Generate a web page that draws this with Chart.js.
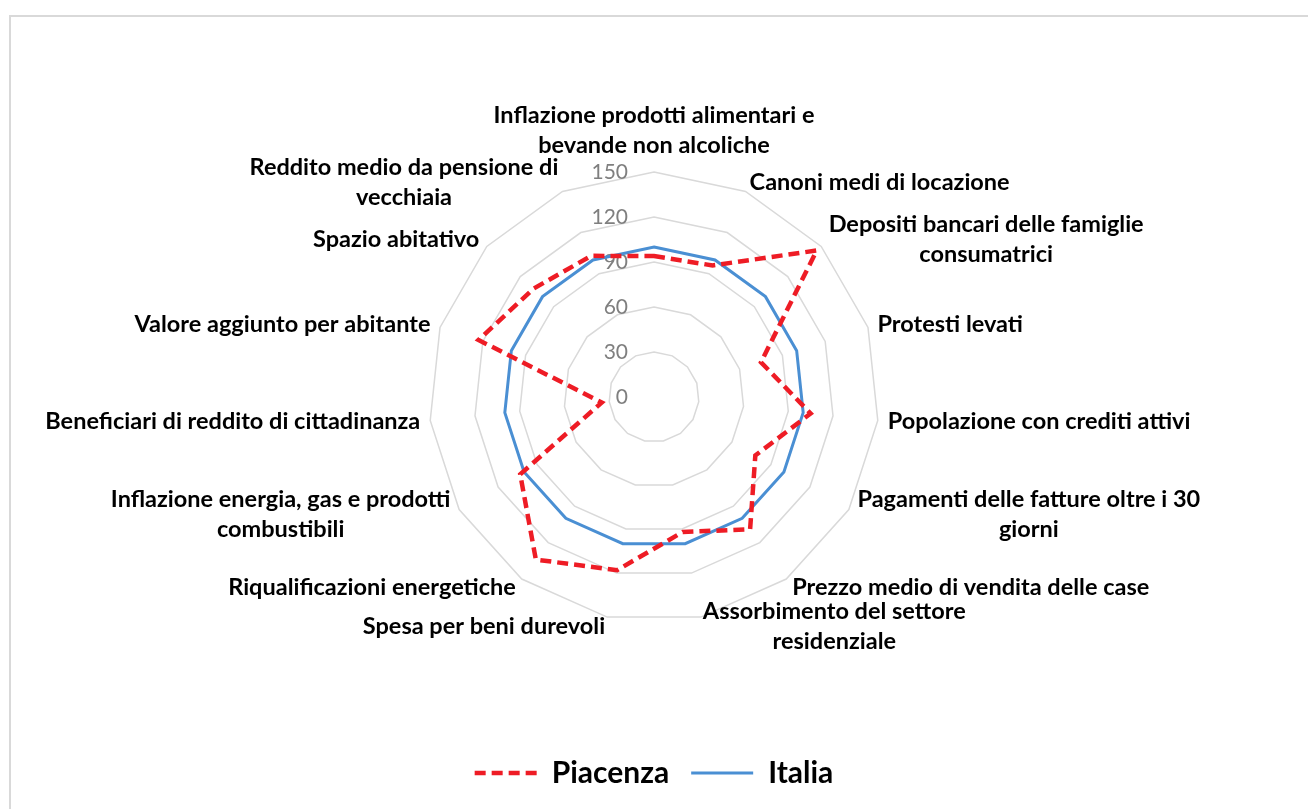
<!DOCTYPE html>
<html lang="it">
<head>
<meta charset="UTF-8">
<title>Piacenza e Italia - indicatori</title>
<script src="https://cdn.jsdelivr.net/npm/chart.js"></script>
<style>
  html, body { margin: 0; padding: 0; background: #fff; overflow: hidden; }
  .cornice { position: absolute; left: 9px; top: 15px; width: 1400px; height: 900px; border: 2px solid #d9d9d9; }
  .box { position: absolute; left: 0; top: 0; width: 1308px; height: 809px; }
</style>
</head>
<body>
<div class="cornice"></div>
<div class="box"><canvas id="radar"></canvas></div>

<script>
// categorie (una riga per elemento dell'array interno)
const categorie = [
  ['Inflazione prodotti alimentari e', 'bevande non alcoliche'],
  ['Canoni medi di locazione'],
  ['Depositi bancari delle famiglie', 'consumatrici'],
  ['Protesti levati'],
  ['Popolazione con crediti attivi'],
  ['Pagamenti delle fatture oltre i 30', 'giorni'],
  ['Prezzo medio di vendita delle case'],
  ['Assorbimento del settore', 'residenziale'],
  ['Spesa per beni durevoli'],
  ['Riqualificazioni energetiche'],
  ['Inflazione energia, gas e prodotti', 'combustibili'],
  ['Beneficiari di reddito di cittadinanza'],
  ['Valore aggiunto per abitante'],
  ['Spazio abitativo'],
  ['Reddito medio da pensione di', 'vecchiaia']
];

const piacenza = [94, 96, 146, 75, 105, 78, 109, 92, 118, 134, 103, 35, 123, 108, 103];
const italia   = [100, 100, 100, 100, 100, 100, 100, 100, 100, 100, 100, 100, 100, 100, 100];

const scalaMin = 0;
const scalaMax = 150;
const passo = 30;

const FONT = 'Lato';
const CENTRO_Y = 397;
const RAGGIO = 225;

// etichette dei valori e delle categorie disegnate a mano come in Excel
const testiRadar = {
  id: 'testiRadar',
  beforeDatasetsDraw(chart) {
    const s = chart.scales.r;
    const ctx = chart.ctx;
    ctx.save();

    ctx.font = '21px ' + FONT;
    ctx.fillStyle = '#7f7f7f';
    ctx.textAlign = 'right';
    ctx.textBaseline = 'middle';
    s.ticks.forEach(t => {
      const y = s.yCenter - s.getDistanceFromCenterForValue(t.value);
      ctx.fillText(t.label, s.xCenter - 26, y);
    });

    ctx.font = 'bold 23.5px ' + FONT;
    ctx.fillStyle = '#000';
    ctx.textAlign = 'center';
    const n = categorie.length;
    const interlinea = 30;
    categorie.forEach((righe, i) => {
      const p = s.getPointPosition(i, s.drawingArea + 10);
      const gradi = i * 360 / n;
      const larg = Math.max(...righe.map(r => ctx.measureText(r).width));
      const alt = righe.length * interlinea;
      let cx, top;
      if (gradi === 0) { cx = p.x; top = p.y - alt - 2; }
      else if (gradi === 180) { cx = p.x; top = p.y; }
      else if (gradi < 180) { cx = p.x + larg / 2; top = p.y - alt / 2; }
      else { cx = p.x - larg / 2; top = p.y - alt / 2; }
      righe.forEach((r, k) => ctx.fillText(r, cx, top + interlinea / 2 + k * interlinea));
    });
    ctx.restore();
  }
};

new Chart(document.getElementById('radar'), {
  type: 'radar',
  data: {
    labels: categorie.map(c => c.join(' ')),
    datasets: [
      {
        label: 'Piacenza',
        data: piacenza,
        borderColor: '#ee1c25',
        backgroundColor: '#ee1c25',
        borderWidth: 4.5,
        borderDash: [11, 6],
        borderJoinStyle: 'miter',
        fill: false,
        pointRadius: 0,
        pointHoverRadius: 0
      },
      {
        label: 'Italia',
        data: italia,
        borderColor: '#4a8fd3',
        backgroundColor: '#4a8fd3',
        borderWidth: 3,
        borderJoinStyle: 'miter',
        fill: false,
        pointRadius: 0,
        pointHoverRadius: 0
      }
    ]
  },
  options: {
    responsive: true,
    maintainAspectRatio: false,
    animation: false,
    layout: { padding: { top: 40, bottom: 11, left: 0, right: 0 } },
    elements: { line: { tension: 0 } },
    scales: {
      r: {
        min: scalaMin,
        max: scalaMax,
        ticks: { display: false, stepSize: passo },
        pointLabels: { display: false },
        angleLines: { display: false },
        grid: { color: '#d9d9d9', lineWidth: 1.5 },
        afterFit(s) {
          s.xCenter = Math.round(s.chart.width / 2);
          s.yCenter = CENTRO_Y;
          s.drawingArea = RAGGIO;
        }
      }
    },
    plugins: {
      tooltip: { enabled: false },
      legend: {
        position: 'bottom',
        labels: {
          font: { family: FONT, size: 30, weight: 'bold' },
          color: '#000',
          usePointStyle: true,
          pointStyle: 'line',
          pointStyleWidth: 62,
          padding: 22,
          generateLabels(chart) {
            const voci = Chart.defaults.plugins.legend.labels.generateLabels(chart);
            voci.forEach(v => {
              const ds = chart.data.datasets[v.datasetIndex];
              v.lineDash = ds.borderDash || [];
              v.lineWidth = ds.borderWidth;
              v.strokeStyle = ds.borderColor;
            });
            return voci;
          }
        }
      }
    }
  },
  plugins: [testiRadar]
});
</script>
</body>
</html>
